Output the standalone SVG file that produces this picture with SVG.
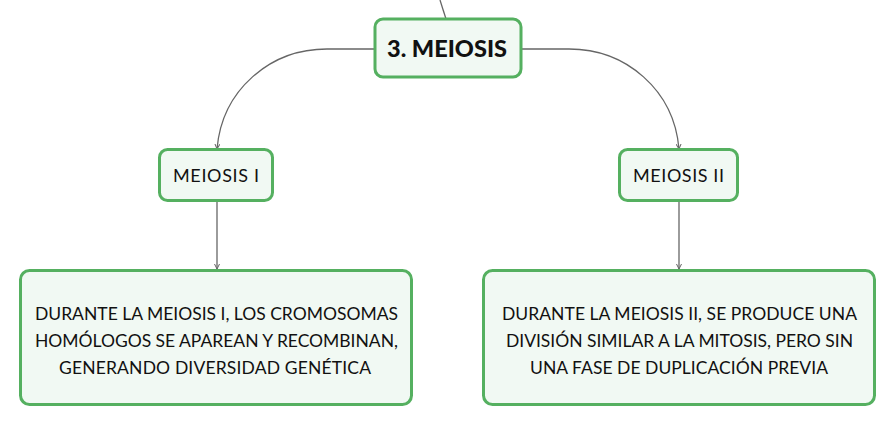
<svg xmlns="http://www.w3.org/2000/svg" width="896" height="426" viewBox="0 0 896 426">
<style>
.node rect{fill:#f1f9f3;stroke:#55b060;stroke-width:3}
.t{font-family:Lato,"Noto Sans",sans-serif;fill:#111;text-anchor:middle}
.c path{fill:none;stroke:#666;stroke-width:1.3}
</style>
<defs>
<marker id="a" viewBox="0 0 6 6" refX="5" refY="3" markerWidth="6" markerHeight="6" orient="auto" markerUnits="userSpaceOnUse">
<path d="M0,0.5 L5,3 L0,5.5" fill="none" stroke="#666" stroke-width="1"/>
</marker>
</defs>
<rect width="896" height="426" fill="#fff"/>
<g class="c">
<path d="M440,0 L446,19"/>
<path d="M374,49 L327,49 C270,49 222,90 217,149" marker-end="url(#a)"/>
<path d="M521,49 L569,49 C626,49 674,90 679,149" marker-end="url(#a)"/>
<path d="M217,201 L217,269" marker-end="url(#a)"/>
<path d="M679,201 L679,269" marker-end="url(#a)"/>
</g>
<g id="main" class="node">
<rect x="375" y="19" width="146" height="58" rx="8"/>
<text class="t" x="447" y="57" font-size="23" font-weight="900" textLength="120" lengthAdjust="spacingAndGlyphs">3. MEIOSIS</text>
</g>
<g id="m1" class="node">
<rect x="159.5" y="149.5" width="113" height="51" rx="8"/>
<text class="t" x="216" y="181.5" font-size="18" textLength="86">MEIOSIS I</text>
</g>
<g id="m2" class="node">
<rect x="619.5" y="149.5" width="118" height="51" rx="8"/>
<text class="t" x="678.5" y="181.5" font-size="18" textLength="91">MEIOSIS II</text>
</g>
<g id="d1" class="node">
<rect x="20.5" y="270.5" width="391" height="134" rx="9"/>
<text class="t" font-size="17.5"><tspan x="216.5" y="319.5" textLength="363">DURANTE LA MEIOSIS I, LOS CROMOSOMAS</tspan><tspan x="216.5" y="346.5" textLength="363">HOMÓLOGOS SE APAREAN Y RECOMBINAN,</tspan><tspan x="215" y="373.5" textLength="312">GENERANDO DIVERSIDAD GENÉTICA</tspan></text>
</g>
<g id="d2" class="node">
<rect x="483.5" y="270.5" width="391" height="134" rx="9"/>
<text class="t" font-size="17.5"><tspan x="679.5" y="319.5" textLength="355">DURANTE LA MEIOSIS II, SE PRODUCE UNA</tspan><tspan x="679.5" y="346.5" textLength="347">DIVISIÓN SIMILAR A LA MITOSIS, PERO SIN</tspan><tspan x="679" y="373.5" textLength="298">UNA FASE DE DUPLICACIÓN PREVIA</tspan></text>
</g>
</svg>
